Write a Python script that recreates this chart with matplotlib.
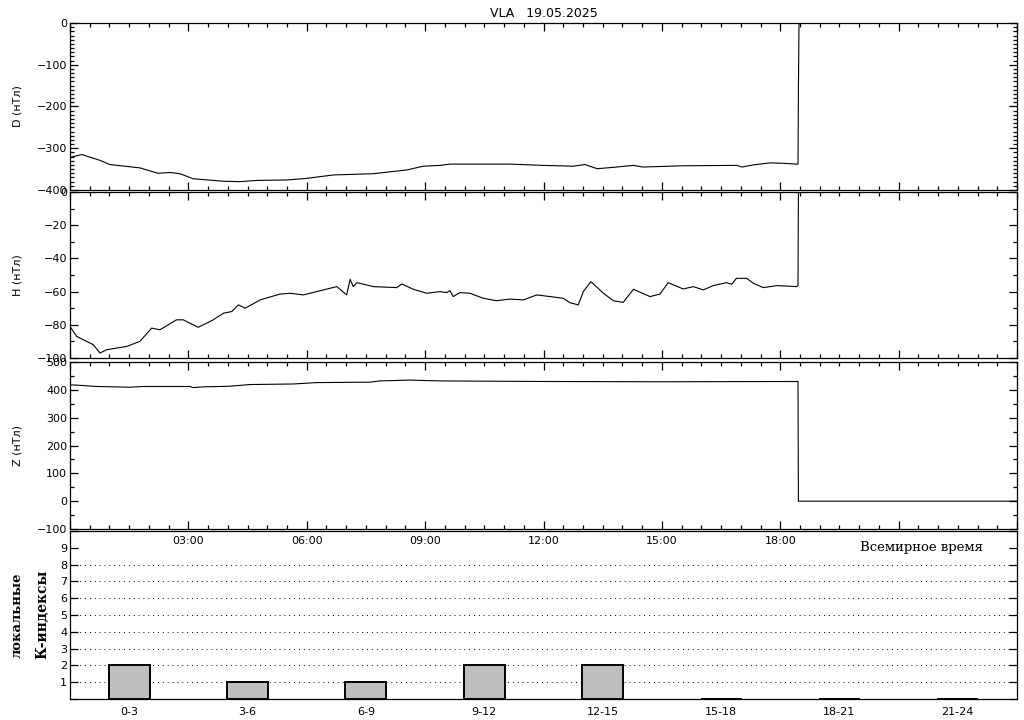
import numpy as np
import matplotlib
matplotlib.use("Agg")
import matplotlib.pyplot as plt
from matplotlib.ticker import MultipleLocator

# ── Data ────────────────────────────────────────────────────────────────
title = "VLA   19.05.2025"

d_hours = [0.0, 0.30, 0.76, 1.01, 1.77, 2.23, 2.53, 2.79, 3.12, 3.88, 4.31, 4.74,
           5.50, 6.01, 6.67, 7.68, 8.54, 8.95, 9.38, 9.63, 11.15, 11.99, 12.75,
           13.05, 13.36, 13.86, 14.27, 14.52, 15.54, 16.90, 17.03, 17.31, 17.74,
           18.07, 18.42, 18.45, 18.46, 18.475, 24.0]
d_values = [-322, -315, -329, -339, -347, -360, -358, -361, -373, -379, -380, -377,
            -376, -372, -364, -361, -352, -343, -341, -338, -338, -341, -343,
            -339, -349, -345, -341, -345, -342, -341, -345, -340, -335,
            -336, -338, -338, -168, 0, 0]

h_hours = [0.0, 0.17, 0.59, 0.76, 0.93, 1.44, 1.77, 2.07, 2.28, 2.70, 2.87, 3.25,
           3.63, 3.89, 4.10, 4.27, 4.44, 4.82, 5.32, 5.58, 5.91, 6.25, 6.76, 7.01,
           7.10, 7.18, 7.27, 7.69, 8.28, 8.41, 8.70, 9.04, 9.38, 9.55, 9.63, 9.71,
           9.88, 10.14, 10.47, 10.81, 11.15, 11.49, 11.83, 12.50, 12.67, 12.88,
           13.01, 13.20, 13.52, 13.77, 14.02, 14.28, 14.70, 14.95, 15.16, 15.54,
           15.80, 16.05, 16.30, 16.64, 16.77, 16.89, 17.15, 17.32, 17.57, 17.91,
           18.42, 18.45, 18.46, 24.0]
h_values = [-81, -87, -92, -97, -95, -93, -90, -82, -83, -77, -77, -81.5,
            -77, -73, -72, -68, -70, -65, -61.5, -61, -62, -60, -57, -62,
            -52.6, -57, -54.6, -57, -57.6, -55.4, -58.6, -61, -60, -60.6, -59.4, -63,
            -60.6, -61, -64, -65.5, -64.5, -65, -62, -64, -66.7, -68,
            -60, -54, -61, -65.5, -66.5, -58.6, -63, -61.5, -54.6, -58.4,
            -57, -59, -56.4, -54.6, -55.6, -52, -52, -55, -57.6, -56.4,
            -57, -56, 0, 0]

z_hours = [0.0, 0.17, 0.68, 1.52, 1.85, 3.04, 3.12, 3.37, 4.05, 4.56, 5.65, 6.25,
           7.60, 7.85, 8.61, 9.38, 12.0, 15.0, 18.45, 18.46, 24.0]
z_values = [418, 417, 412, 409.5, 412, 412, 408, 410.6, 413, 419, 421, 426,
            427.5, 432, 435, 432, 430, 429, 430, 0, 0]

k_labels = ["0-3", "3-6", "6-9", "9-12", "12-15", "15-18", "18-21", "21-24"]
k_values = [2, 1, 1, 2, 2, 0, 0, 0]

time_labels = ["", "03:00", "06:00", "09:00", "12:00", "15:00", "18:00", "", ""]

# ── Figure layout (pixel-matched panels) ────────────────────────────────
W, H = 1024, 720
fig = plt.figure(figsize=(W / 100, H / 100), dpi=100)


def px_axes(top, bottom, left=70, right=1017):
    return fig.add_axes([left / W, 1 - bottom / H, (right - left) / W, (bottom - top) / H])


ax1 = px_axes(23, 190)
ax2 = px_axes(192, 358)
ax3 = px_axes(362, 529)
ax4 = px_axes(531, 699)
ax4.set_facecolor("none")

tick_font = 8
lw = 0.9


def style_mag(ax, ylim, major, minor):
    ax.set_xlim(0, 24)
    ax.set_ylim(*ylim)
    ax.xaxis.set_major_locator(MultipleLocator(3))
    ax.xaxis.set_minor_locator(MultipleLocator(0.5))
    ax.yaxis.set_major_locator(MultipleLocator(major))
    ax.yaxis.set_minor_locator(MultipleLocator(minor))
    ax.tick_params(which="both", direction="in", top=True, right=True,
                   labelsize=tick_font, width=lw, pad=2)
    ax.tick_params(which="major", length=5.8)
    ax.tick_params(which="minor", length=2.9)
    ax.tick_params(axis="x", labelbottom=False)
    for s in ax.spines.values():
        s.set_linewidth(lw)


style_mag(ax1, (-400, 0), 100, 10)
style_mag(ax2, (-100, 0), 20, 10)
style_mag(ax3, (-100, 500), 100, 50)

ax1.plot(d_hours, d_values, color="black", lw=0.8)
ax2.plot(h_hours, h_values, color="black", lw=0.8)
ax3.plot(z_hours, z_values, color="black", lw=0.8)

ax1.set_title(title, fontsize=9, pad=4)

ax1.set_ylabel("D (нТл)", fontsize=8)
ax2.set_ylabel("H (нТл)", fontsize=8)
ax3.set_ylabel("Z (нТл)", fontsize=8)
for ax in (ax1, ax2, ax3):
    ax.yaxis.set_label_coords(-47 / 947, 0.5)

# time labels under the Z panel (they sit inside the K panel's top area)
ax3.set_xticks(np.arange(0, 25, 3))
ax3.set_xticklabels(time_labels)
ax3.tick_params(axis="x", labelbottom=True, pad=5)

# ── K-index bars ────────────────────────────────────────────────────────
k_centers = np.arange(len(k_values)) * 3 + 1.5
ax4.bar(k_centers, k_values, width=1.04, color="#bebebe", edgecolor="black",
        linewidth=1.4, zorder=3, clip_on=False)
ax4.set_xlim(0, 24)
ax4.set_ylim(0, 10)
ax4.set_xticks(k_centers)
ax4.set_xticklabels(k_labels)
ax4.set_yticks(range(0, 11))
ax4.set_yticklabels([""] + [str(i) for i in range(1, 10)] + [""])
ax4.tick_params(axis="x", length=0, labelsize=tick_font, pad=6)
ax4.tick_params(axis="y", direction="in", right=True, length=5.8, width=lw,
                labelsize=tick_font, pad=2)
for lev in range(1, 9):
    ax4.axhline(lev, color="black", lw=0.7, ls=(0, (1, 4)), zorder=1)
for s in ax4.spines.values():
    s.set_linewidth(lw)

fig.text(922 / W, 1 - 547 / H, "Всемирное время", family="DejaVu Serif",
         fontsize=9.5, ha="center", va="center")
fig.text(17 / W, 1 - 615 / H, "локальные", family="DejaVu Serif", fontsize=9.5,
         fontweight="bold", rotation=90, ha="center", va="center")
fig.text(42 / W, 1 - 614 / H, "К-индексы", family="DejaVu Serif", fontsize=10,
         fontweight="bold", rotation=90, ha="center", va="center")

fig.savefig("out.png", dpi=100)
